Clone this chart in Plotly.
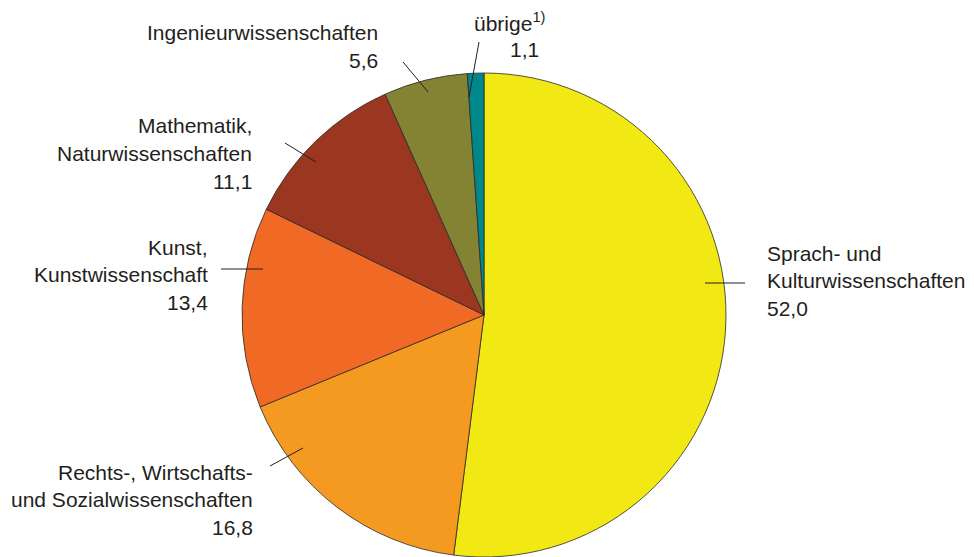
import plotly.graph_objects as go

# ---- data ----
categories = ["Sprach- und Kulturwissenschaften",
              "Rechts-, Wirtschafts- und Sozialwissenschaften",
              "Kunst, Kunstwissenschaft",
              "Mathematik, Naturwissenschaften",
              "Ingenieurwissenschaften",
              "übrige"]
values = [52.0, 16.8, 13.4, 11.1, 5.6, 1.1]
label_lines = [
    ["Sprach- und", "Kulturwissenschaften"],
    ["Rechts-, Wirtschafts-", "und Sozialwissenschaften"],
    ["Kunst,", "Kunstwissenschaft"],
    ["Mathematik,", "Naturwissenschaften"],
    ["Ingenieurwissenschaften"],
    ["übrige<sup>1)</sup>"],
]
colors = ["#F2E814", "#F59A21", "#F06A25", "#9B3620", "#848334", "#00878A"]

# page body has an 8px margin; figure occupies the rest of the window
OFF = 8
W, H = 974 - OFF, 557 - OFF
def px(x): return (x - OFF) / W
def py(y): return 1 - (y - OFF) / H

fig = go.Figure()
fig.add_trace(go.Pie(
    labels=categories, values=values, sort=False, direction="clockwise",
    rotation=0, textinfo="none", hoverinfo="skip", showlegend=False,
    marker=dict(colors=colors, line=dict(color="#2a2a2a", width=0.8)),
    domain=dict(x=[px(484 - 242), px(484 + 242)], y=[0, py(73)]),
))

FONT = dict(family="Liberation Sans, Arial, sans-serif", size=21, color="#231F20")

layouts = [
    dict(x=765, y0=253, xa="left"),
    dict(x=255, y0=472, xa="right"),
    dict(x=210, y0=247, xa="right"),
    dict(x=254, y0=126, xa="right"),
    dict(x=380, y0=33, xa="right"),
    dict(x=472, y0=22, xa="left"),
]
spacing = 27.5
for k, (lines, v, lay) in enumerate(zip(label_lines, values, layouts)):
    num = f"{v:.1f}".replace(".", ",")
    all_lines = list(lines) + [num]
    for i, t in enumerate(all_lines):
        xa = lay["xa"]
        x = lay["x"]
        if k == 5 and i == 1:
            x, xa = 541, "right"
        fig.add_annotation(x=px(x), y=py(lay["y0"] + i * spacing), xref="paper", yref="paper",
                           text=t, showarrow=False, xanchor=xa, yanchor="middle", font=FONT)

leaders = [
    (705, 283, 745, 283),
    (270, 466, 303, 448),
    (221, 269, 263, 269),
    (285, 143, 316, 162),
    (403, 62, 428, 92),
    (479, 42, 469, 97),
]
for x0, y0, x1, y1 in leaders:
    fig.add_shape(type="line", xref="paper", yref="paper", x0=px(x0), y0=py(y0),
                  x1=px(x1), y1=py(y1), line=dict(color="#231F20", width=1))

fig.update_layout(width=W, height=H, margin=dict(l=0, r=0, t=0, b=0),
                  paper_bgcolor="white", plot_bgcolor="white")
fig.write_html("out.html")
